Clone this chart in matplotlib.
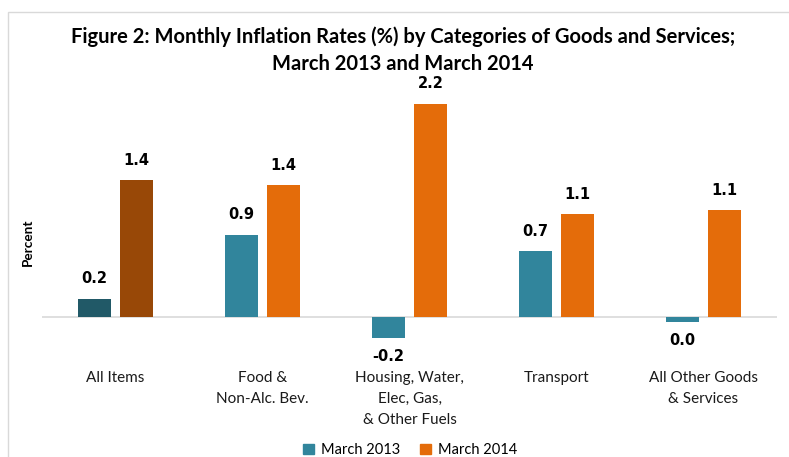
import numpy as np
import matplotlib
matplotlib.use("Agg")
from matplotlib import pyplot as plt
from matplotlib import transforms
from matplotlib.patches import Rectangle, Patch

categories = ["All Items", "Food &\nNon-Alc. Bev.", "Housing, Water,\nElec, Gas,\n& Other Fuels",
              "Transport", "All Other Goods\n& Services"]
march_2013 = [0.19, 0.85, -0.22, 0.68, -0.05]
march_2014 = [1.41, 1.36, 2.20, 1.06, 1.10]
labels_2013 = ["0.2", "0.9", "-0.2", "0.7", "0.0"]
labels_2014 = ["1.4", "1.4", "2.2", "1.1", "1.1"]

teal, teal_dark = "#31859C", "#215967"
orange, orange_dark = "#E46C0A", "#984807"

W, H = 789, 457
fig = plt.figure(figsize=(W / 100, H / 100), dpi=100)

# light chart-area border (top and left visible)
fig.patches.append(Rectangle((8 / W, -0.1), 1.2, (H - 12) / H + 0.1, transform=fig.transFigure,
                             fill=False, edgecolor="#D9D9D9", linewidth=1))

top_px, bot_px, zero_px = 80, 345, 317
ppu = 97.0
ax = fig.add_axes([42 / W, (H - bot_px) / H, 735 / W, (bot_px - top_px) / H])
ax.set_ylim(-(bot_px - zero_px) / ppu, (zero_px - top_px) / ppu)
ax.set_xlim(-0.5, len(categories) - 0.5)

x = np.arange(len(categories))
bw, off = 0.224, 0.1425
c13 = [teal_dark] + [teal] * (len(categories) - 1)
c14 = [orange_dark] + [orange] * (len(categories) - 1)
ax.bar(x - off, march_2013, bw, color=c13, zorder=2)
ax.bar(x + off, march_2014, bw, color=c14, zorder=2)
ax.axhline(0, color="#D9D9D9", linewidth=1.2, zorder=1)

lab_font = dict(fontfamily="DejaVu Sans", fontweight="bold", fontsize=10.5, ha="center")
for xi, v, t in zip(x - off, march_2013, labels_2013):
    if v >= 0:
        ax.annotate(t, (xi, v), xytext=(0, 9), textcoords="offset points", va="bottom", **lab_font)
    else:
        ax.annotate(t, (xi, v), xytext=(0, -8), textcoords="offset points", va="top", **lab_font)
for xi, v, t in zip(x + off, march_2014, labels_2014):
    ax.annotate(t, (xi, v), xytext=(0, 9), textcoords="offset points", va="bottom", **lab_font)

for s in ax.spines.values():
    s.set_visible(False)
ax.set_yticks([])
ax.set_xticks([])

# category labels placed below the axis at a fixed pixel height
cat_tr = transforms.blended_transform_factory(ax.transData, fig.transFigure)
for xi, c in zip(x, categories):
    ax.text(xi, (H - 371) / H, c, transform=cat_tr, ha="center", va="top",
            fontfamily="Lato", fontsize=11, linespacing=1.62, color="#1a1a1a")

fig.text(28 / W, (H - 242) / H, "Percent", rotation=90, ha="center", va="center",
         fontfamily="Lato", fontweight="bold", fontsize=9.8)

fig.text(403 / W, (H - 50) / H, "Figure 2: Monthly Inflation Rates (%) by Categories of Goods and Services;\nMarch 2013 and March 2014",
         ha="center", va="center", fontfamily="Lato", fontweight="bold", fontsize=14.5, linespacing=1.45)

handles = [Patch(color=teal, label="March 2013"), Patch(color=orange, label="March 2014")]
fig.legend(handles=handles, loc="center", bbox_to_anchor=(410 / W, (H - 450) / H), ncol=2, frameon=False,
           prop={"family": "Lato", "size": 10.5}, handlelength=0.75, handleheight=0.75,
           handletextpad=0.45, columnspacing=1.4, borderpad=0)

fig.savefig("out.png", dpi=100)
